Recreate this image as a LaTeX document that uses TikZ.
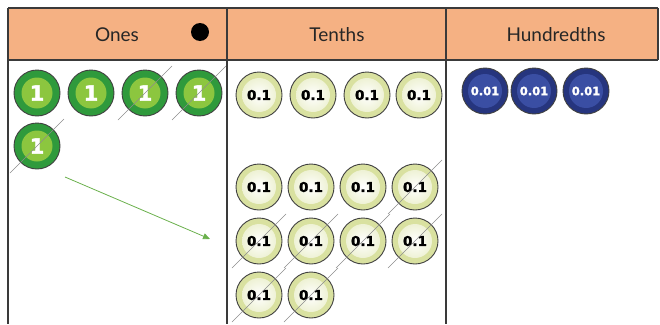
\documentclass[tikz,border=0pt]{standalone}
\usepackage{fontspec}
\setmainfont{Lato}
\newfontfamily\coinfont[BoldFeatures={FakeBold=1.6}]{DejaVu Sans}
\usetikzlibrary{arrows.meta}
\definecolor{headfill}{HTML}{F5B183}
\definecolor{gridline}{HTML}{3A3A3A}
\definecolor{oneouter}{HTML}{2F9A3C}
\definecolor{oneinner}{HTML}{8CC63F}
\definecolor{tenthring}{HTML}{D9E1A0}
\definecolor{hundouter}{HTML}{26357E}
\definecolor{hundinner}{HTML}{3A4EA3}
\definecolor{arrowline}{HTML}{C2CEB0}
\definecolor{arrowhead}{HTML}{6AB04C}
\tikzset{
  grid/.style={draw=gridline, line width=1.6pt},
  headtext/.style={font=\fontsize{19}{22}\selectfont, text=black!85},
  coinbase/.style={circle, draw=black!75, line width=0.9pt, minimum size=46pt, inner sep=0pt},
  onecoin/.style={coinbase, fill=oneouter,
    path picture={\fill[oneinner] (path picture bounding box.center) circle (15.5pt);},
    font=\coinfont\bfseries\fontsize{21}{21}\selectfont, text=white},
  tenthcoin/.style={coinbase, fill=tenthring,
    path picture={\shade[inner color=white, outer color=tenthring!60!white] (path picture bounding box.center) circle (17pt);},
    font=\coinfont\bfseries\fontsize{13.5}{13.5}\selectfont, text=black},
  hundcoin/.style={coinbase, fill=hundouter,
    path picture={\fill[hundinner] (path picture bounding box.center) circle (17pt);},
    font=\coinfont\bfseries\fontsize{11.5}{11.5}\selectfont, text=white},
  strike/.style={draw=black!45, line width=0.6pt},
  regroup/.style={draw=arrowline, line width=0.8pt, -{Triangle[length=7pt,width=6pt,fill=arrowhead]}, arrowhead},
}
\begin{document}
\begin{tikzpicture}[x=1pt,y=-1pt]
\useasboundingbox (0,0) rectangle (660,324);
% header band
\fill[headfill] (8,8) rectangle (658,60);
\draw[grid] (8,8) -- (658,8);
\draw[grid] (8,60) -- (658,60);
\draw[grid] (658,8) -- (658,60);
\draw[grid] (8,8) -- (8,324);
\draw[grid] (227,8) -- (227,324);
\draw[grid] (446,8) -- (446,324);
% headers
\node[headtext] (hOnes) at (117,35) {Ones};
\node[headtext] (hTenths) at (337,35) {Tenths};
\node[headtext] (hHund) at (556,35) {Hundredths};
\fill[black] (200,32) circle (9pt);
% ones
\node[onecoin] (o1) at (37,93) {1};
\node[onecoin] (o2) at (91,93) {1};
\node[onecoin] (o3) at (145,93) {1};
\node[onecoin] (o4) at (199,93) {1};
\node[onecoin] (o5) at (37,146) {1};
\foreach \c in {o3,o4,o5}{
  \draw[strike] ([shift={(-27,27)}]\c.center) -- ([shift={(27,-27)}]\c.center);
}
% arrow
\coordinate (aStart) at (65,177);
\coordinate (aEnd) at (210,239);
\draw[regroup] (aStart) -- (aEnd);
% tenths
\node[tenthcoin] (t1) at (259,95) {0.1};
\node[tenthcoin] (t2) at (313,95) {0.1};
\node[tenthcoin] (t3) at (367,95) {0.1};
\node[tenthcoin] (t4) at (419,95) {0.1};
\node[tenthcoin] (t5) at (259,187) {0.1};
\node[tenthcoin] (t6) at (311,187) {0.1};
\node[tenthcoin] (t7) at (363,187) {0.1};
\node[tenthcoin] (t8) at (415,187) {0.1};
\node[tenthcoin] (t9) at (259,241) {0.1};
\node[tenthcoin] (t10) at (311,241) {0.1};
\node[tenthcoin] (t11) at (363,241) {0.1};
\node[tenthcoin] (t12) at (415,241) {0.1};
\node[tenthcoin] (t13) at (259,295) {0.1};
\node[tenthcoin] (t14) at (311,295) {0.1};
\foreach \c in {t8,t9,t10,t11,t12,t13,t14}{
  \draw[strike] ([shift={(-27,27)}]\c.center) -- ([shift={(27,-27)}]\c.center);
}
% hundredths
\node[hundcoin] (h1) at (485,91) {0.01};
\node[hundcoin] (h2) at (534,91) {0.01};
\node[hundcoin] (h3) at (586,91) {0.01};
\end{tikzpicture}
\end{document}
